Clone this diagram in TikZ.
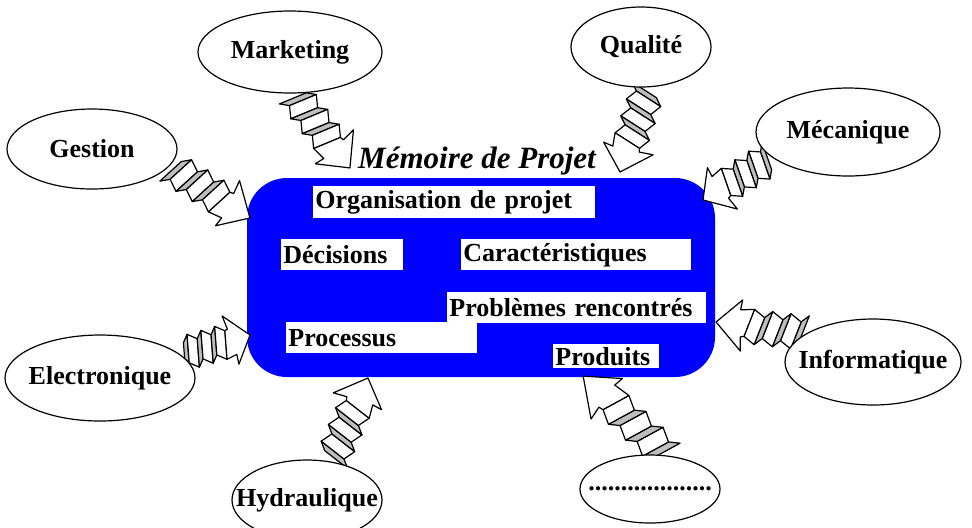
\documentclass[tikz,border=0pt]{standalone}
\usepackage{fontspec}
\setmainfont{Liberation Serif}
\usetikzlibrary{shapes.geometric,calc}

\definecolor{boxblue}{RGB}{0,0,255}
\definecolor{zzgray}{RGB}{190,190,190}

\pgfdeclarelayer{back}
\pgfdeclarelayer{mid}
\pgfsetlayers{back,mid,main}

\tikzset{
  ell/.style={ellipse, draw, fill=white, line width=0.6pt, inner sep=-12pt,
    font=\fontsize{13}{15}\selectfont\bfseries},
  lbl/.style={fill=white, anchor=north west, inner sep=1pt, align=left,
    font=\fontsize{13}{15}\selectfont\bfseries},
  panel/.style={draw, line width=0.6pt, line join=round}
}

% zigzag arrow from #1 to #2
\newcommand\zzarrow[2]{%
  \pgfpointdiff{\pgfpointanchor{#1}{center}}{\pgfpointanchor{#2}{center}}%
  \pgfgetlastxy\zzdx\zzdy
  \pgfmathsetmacro\zzang{atan2(\zzdy,\zzdx)}%
  \pgfmathsetmacro\zzlen{veclen(\zzdx,\zzdy)/100}%
  \begin{scope}[shift={(#1)},rotate=\zzang,x=\zzlen pt,y=0.5pt]
    \foreach \k in {0,20,40}{
      \filldraw[panel,fill=zzgray] (\k,-17) -- (\k+8,11) -- (\k+16,18) -- (\k+8,-10) -- cycle;
      \filldraw[panel,fill=white] (\k+8,-10) -- (\k+16,18) -- (\k+28,11) -- (\k+20,-17) -- cycle;
    }
    \filldraw[panel,fill=white] (60,-17) -- (68,11) -- (72,12) -- (70,26) -- (100,0)
      -- (74,-25) -- (75,-15) -- cycle;
  \end{scope}}

\begin{document}
\begin{tikzpicture}[x=0.5pt,y=-0.5pt]
  \useasboundingbox (0,0) rectangle (972,527);

  % centre
  \begin{pgfonlayer}{back}
    \fill[boxblue, rounded corners=20pt] (247,178) rectangle (715,377);
  \end{pgfonlayer}
  \node[font=\fontsize{15.5}{18}\selectfont\bfseries\itshape] (titre) at (477,161) {Mémoire de Projet};

  \node[lbl, text width=139pt, minimum height=16pt] (org) at (313,186) {Organisation de projet};
  \node[lbl, text width=59pt, minimum height=15.5pt] (dec) at (281,239) {Décisions};
  \node[lbl, text width=113pt, minimum height=15.5pt] (car) at (461,239) {Caractéristiques};
  \node[lbl, text width=127.5pt, minimum height=15.5pt] (pbs) at (447,292) {Problèmes rencontrés};
  \node[lbl, text width=93.5pt, minimum height=15.5pt] (proc) at (286,322) {Processus};
  \node[lbl, text width=51pt, minimum height=12pt] (prod) at (553,344) {Produits};

  % domaines
  \node[ell, minimum width=92pt, minimum height=41pt] (mkt) at (290,52) {Marketing};
  \node[ell, minimum width=70pt, minimum height=40pt] (qual) at (641,47) {Qualité};
  \node[ell, minimum width=85pt, minimum height=40pt] (gest) at (92,149) {Gestion};
  \node[ell, minimum width=92pt, minimum height=44pt] (meca) at (848,132) {Mécanique};
  \node[ell, minimum width=95pt, minimum height=43pt] (elec) at (100,378) {Electronique};
  \node[ell, minimum width=88pt, minimum height=43pt] (info) at (873,362) {Informatique};
  \node[ell, minimum width=75pt, minimum height=40pt] (hyd) at (307,500) {Hydraulique};
  \node[ell, minimum width=70pt, minimum height=34pt] (etc) at (650,489) {...................};

  % bouts des fleches
  \coordinate (mkt-t) at (mkt.-86);
  \coordinate (qual-t) at (qual.-80);
  \coordinate (gest-t) at (gest.-13);
  \coordinate (meca-t) at (meca.198);
  \coordinate (elec-t) at (elec.16);
  \coordinate (info-t) at (info.156);
  \coordinate (hyd-t) at (hyd.57);
  \coordinate (etc-t) at (etc.61);

  \coordinate (mkt-h) at (350,168);
  \coordinate (qual-h) at (620,172);
  \coordinate (gest-h) at (250,218);
  \coordinate (meca-h) at (703,200);
  \coordinate (elec-h) at (250,335);
  \coordinate (info-h) at (716,322);
  \coordinate (hyd-h) at (368,378);
  \coordinate (etc-h) at (583,376);

  \begin{pgfonlayer}{mid}
    \zzarrow{mkt-t}{mkt-h}
    \zzarrow{qual-t}{qual-h}
    \zzarrow{gest-t}{gest-h}
    \zzarrow{meca-t}{meca-h}
    \zzarrow{elec-t}{elec-h}
    \zzarrow{info-t}{info-h}
    \zzarrow{hyd-t}{hyd-h}
    \zzarrow{etc-t}{etc-h}
  \end{pgfonlayer}

\end{tikzpicture}
\end{document}
